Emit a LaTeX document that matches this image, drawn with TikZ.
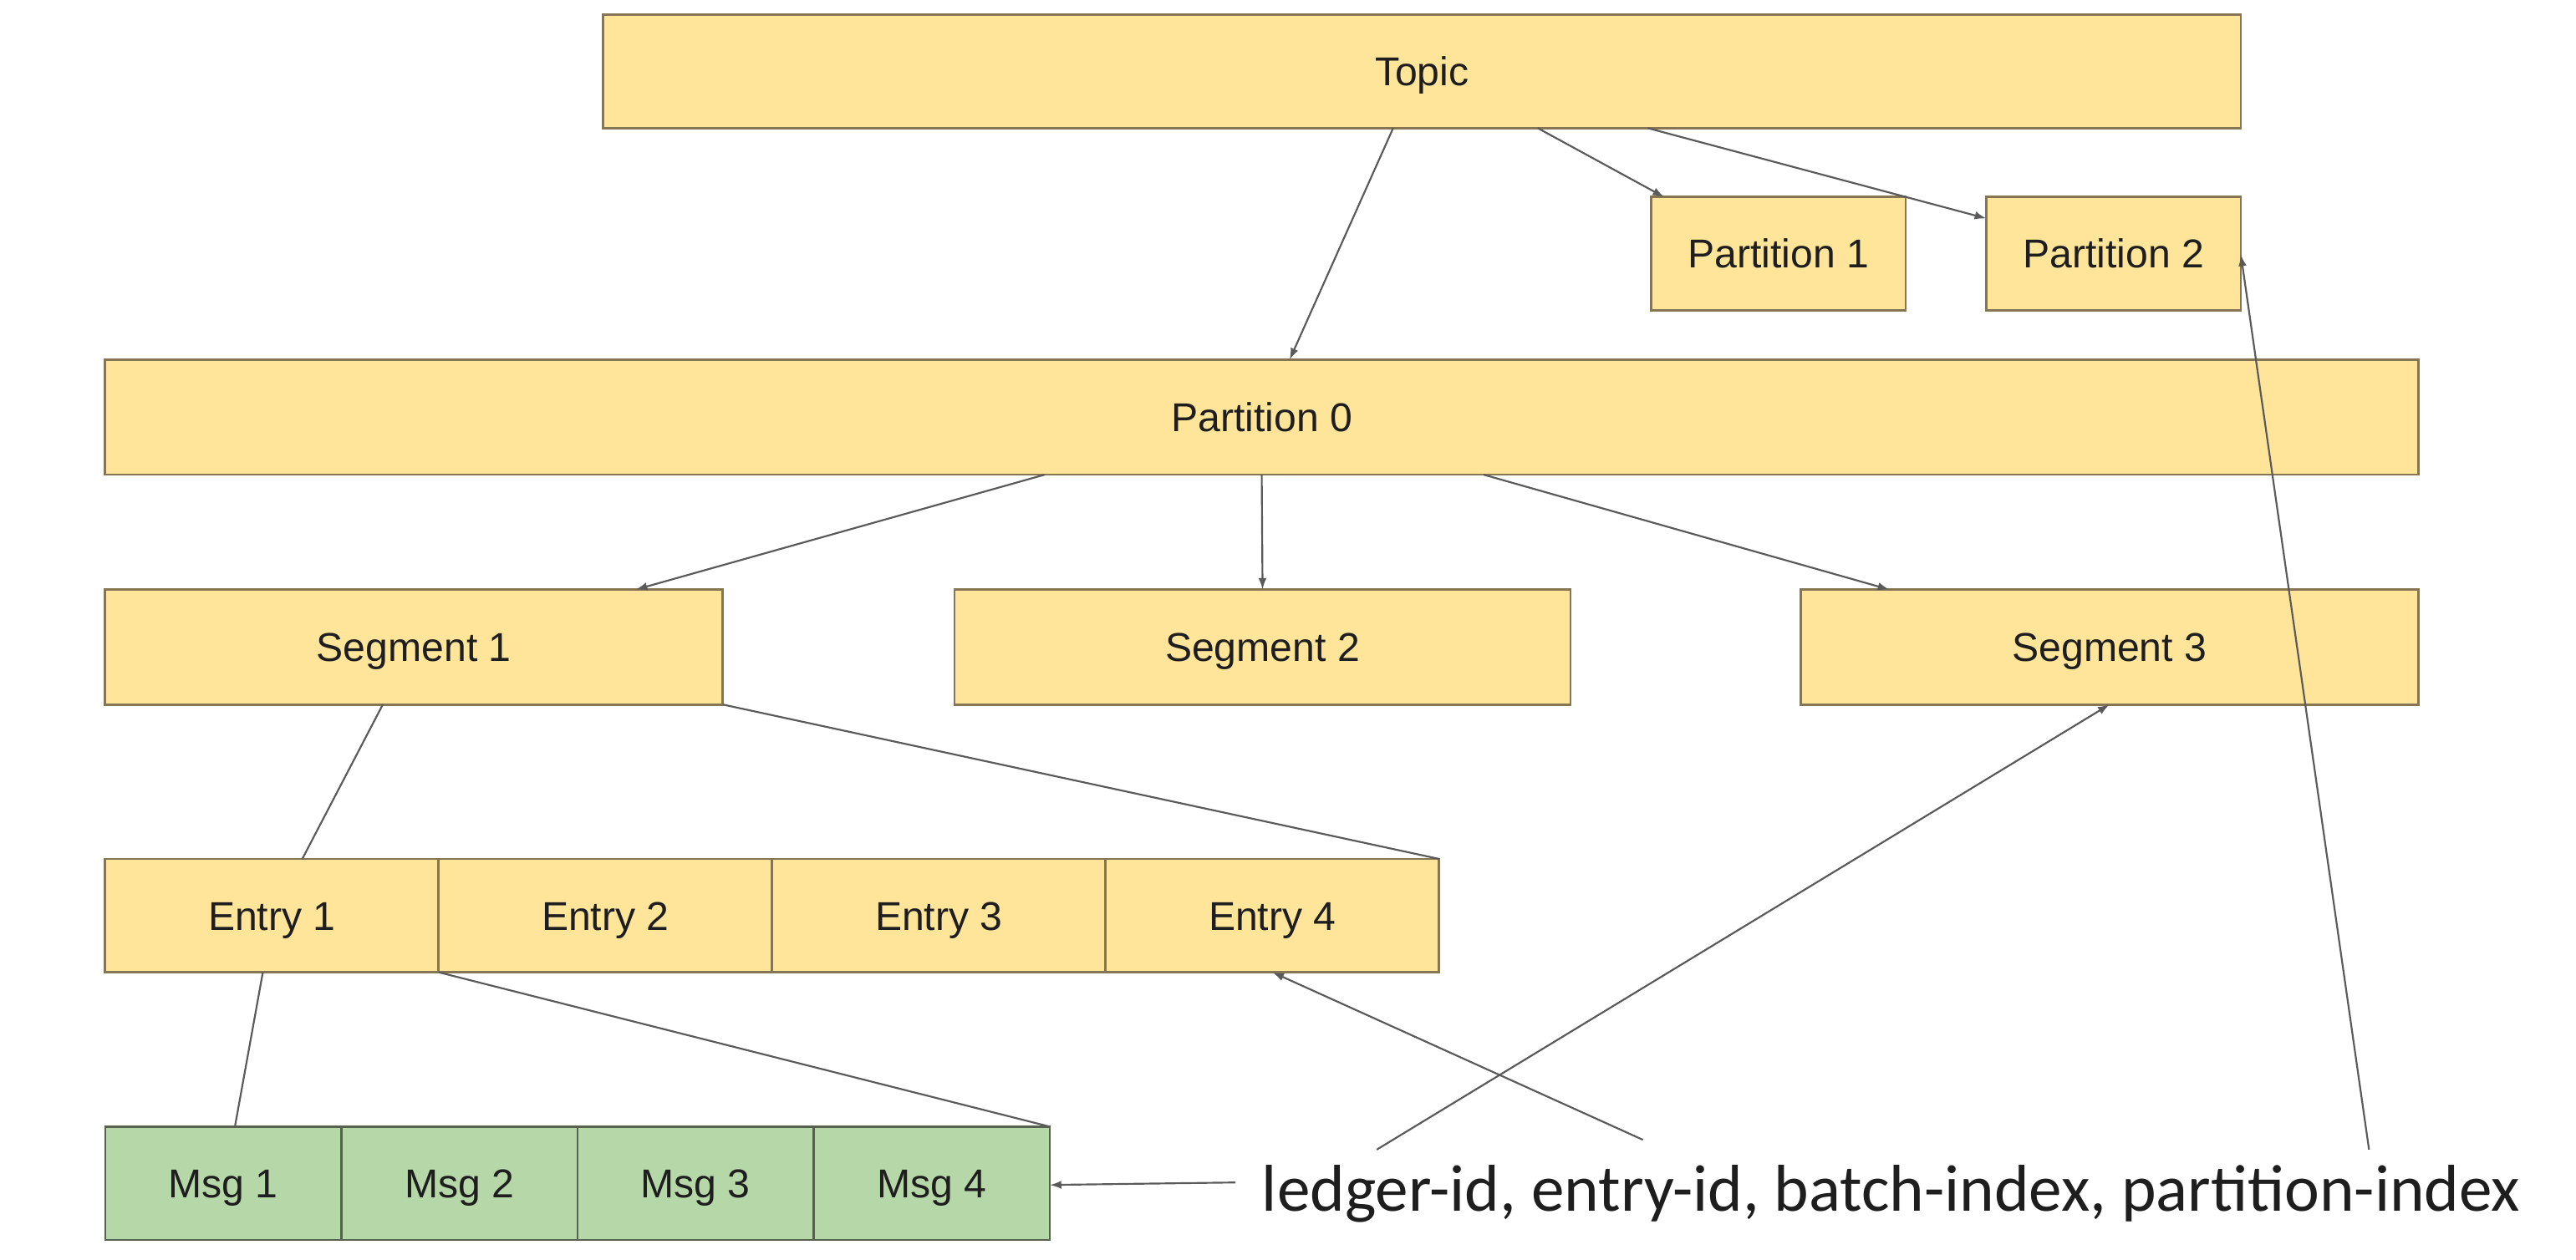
\documentclass[tikz,border=0pt]{standalone}
\usepackage{fontspec}
\setmainfont{Liberation Sans}
\newfontfamily\carlito{Carlito}
\usetikzlibrary{arrows.meta,calc}
\definecolor{boxfill}{HTML}{FFE599}
\definecolor{boxline}{HTML}{857552}
\definecolor{msgfill}{HTML}{B6D7A8}
\definecolor{msgline}{HTML}{56614F}
\definecolor{conn}{HTML}{5A5A5A}
\definecolor{txt}{HTML}{1E1E1E}
\tikzset{
  ybox/.style={draw=boxline, line width=1.4pt, fill=boxfill, anchor=north west,
    inner sep=0pt, outer sep=0pt, text=txt, font=\fontsize{24.5}{29}\selectfont,
    text height=17.5pt, text depth=0pt},
  gbox/.style={draw=msgline, line width=1.2pt, fill=msgfill, anchor=north west,
    inner sep=0pt, outer sep=0pt, text=txt, font=\fontsize{24.5}{29}\selectfont,
    text height=17.5pt, text depth=0pt,
    minimum width=143.75pt, minimum height=69pt},
  arr/.style={draw=conn, line width=1.1pt, -{Latex[length=7pt,width=5pt]}},
  ln/.style={draw=conn, line width=1.1pt},
}
\begin{document}
\begin{tikzpicture}[x=1pt,y=-1pt]
\useasboundingbox[fill=white] (0,0) rectangle (1568,767.2);
% boxes
\node[ybox, minimum width=997pt, minimum height=69pt] (topic) at (367,9) {Topic};
\node[ybox, minimum width=155pt, minimum height=69pt] (p1) at (1005,120) {Partition 1};
\node[ybox, minimum width=155pt, minimum height=69pt] (p2) at (1209,120) {Partition 2};
\node[ybox, minimum width=1408pt, minimum height=70pt] (p0) at (64,219) {Partition 0};
\node[ybox, minimum width=376pt, minimum height=70pt] (s1) at (64,359) {Segment 1};
\node[ybox, minimum width=375pt, minimum height=70pt] (s2) at (581,359) {Segment 2};
\node[ybox, minimum width=376pt, minimum height=70pt] (s3) at (1096,359) {Segment 3};
\node[ybox, minimum width=203pt, minimum height=69pt] (e1) at (64,523) {Entry 1};
\node[ybox, minimum width=203pt, minimum height=69pt] (e2) at (267,523) {Entry 2};
\node[ybox, minimum width=203pt, minimum height=69pt] (e3) at (470,523) {Entry 3};
\node[ybox, minimum width=203pt, minimum height=69pt] (e4) at (673,523) {Entry 4};
\node[gbox] (m1) at (64,686) {Msg 1};
\node[gbox] (m2) at (207.75,686) {Msg 2};
\node[gbox] (m3) at (351.5,686) {Msg 3};
\node[gbox] (m4) at (495.25,686) {Msg 4};
% label
\node[anchor=west, inner sep=0pt, text=txt, font=\carlito\fontsize{40.3}{45}\selectfont] (lbl) at (768,727)
  {ledger-id, entry-id, batch-index, partition-index};
\coordinate (lb1) at (1000,694);
\coordinate (lb2) at (838,700);
\coordinate (lb3) at (1442,700);
\coordinate (lb4) at (752,720);
% connectors
\draw[arr] ([xshift=-17.5pt]topic.south) -- ([xshift=17pt]p0.north);
\draw[arr] ([xshift=70.5pt]topic.south) -- ([xshift=8pt]p1.north west);
\draw[arr] ([xshift=137.5pt]topic.south) -- ([yshift=-13pt]p2.north west);
\draw[arr] ([xshift=-132pt]p0.south) -- ([xshift=135pt]s1.north);
\draw[arr] (p0.south) -- (s2.north);
\draw[arr] ([xshift=135pt]p0.south) -- ([xshift=-134pt]s3.north);
\draw[ln] ([xshift=-19pt]s1.south) -- ([xshift=18.5pt]e1.north);
\draw[ln] (s1.south east) -- (e4.north east);
\draw[ln] ([xshift=-5.5pt]e1.south) -- ([xshift=79pt]m1.north west);
\draw[ln] (e1.south east) -- (m4.north east);
\draw[arr] (lb1) -- (e4.south);
\draw[arr] (lb2) -- (s3.south);
\draw[arr] (lb3) -- ([yshift=-0.5pt]p2.east);
\draw[arr] (lb4) -- ([yshift=-1pt]m4.east);
\end{tikzpicture}
\end{document}
